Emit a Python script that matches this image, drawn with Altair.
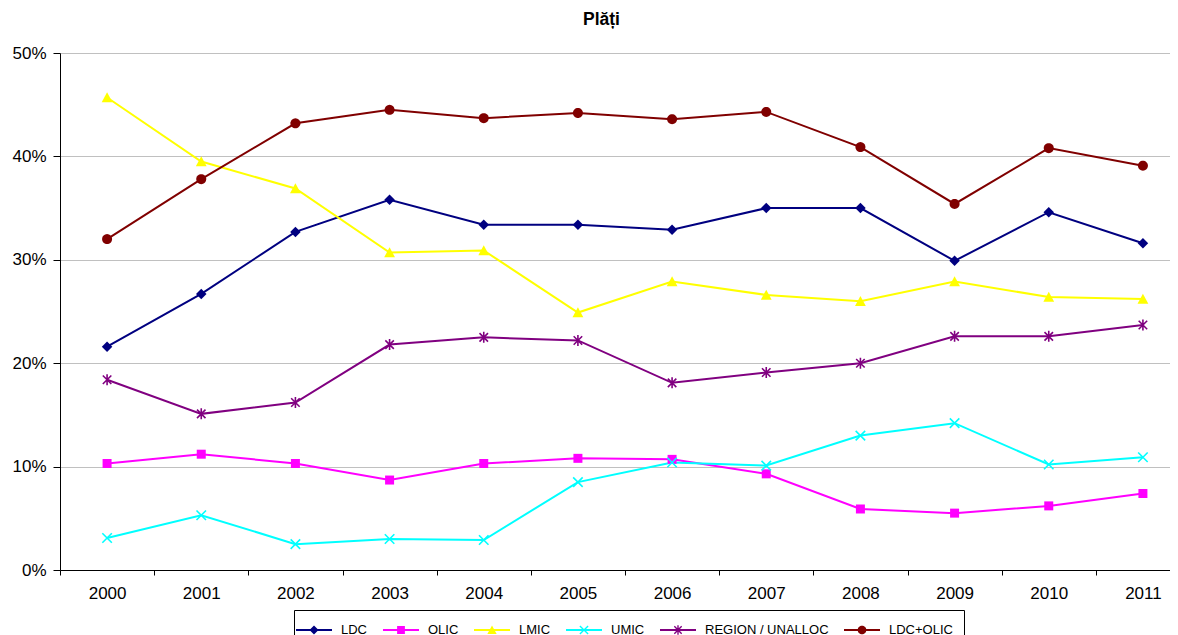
import math
import altair as alt
import pandas as pd

# ---------------- data ----------------
years = ["2000", "2001", "2002", "2003", "2004", "2005",
         "2006", "2007", "2008", "2009", "2010", "2011"]
series_names = ["LDC", "OLIC", "LMIC", "UMIC", "REGION / UNALLOC", "LDC+OLIC"]
series_colors = ["#000080", "#FF00FF", "#FFFF00", "#00FFFF", "#800080", "#800000"]

ldc = [21.6, 26.7, 32.7, 35.8, 33.4, 33.4, 32.9, 35.0, 35.0, 29.9, 34.6, 31.6]
olic = [10.3, 11.2, 10.3, 8.7, 10.3, 10.8, 10.7, 9.3, 5.9, 5.5, 6.2, 7.4]
lmic = [45.7, 39.5, 36.9, 30.7, 30.9, 24.9, 27.9, 26.6, 26.0, 27.9, 26.4, 26.2]
umic = [3.1, 5.3, 2.5, 3.0, 2.9, 8.5, 10.4, 10.1, 13.0, 14.2, 10.2, 10.9]
region = [18.4, 15.1, 16.2, 21.8, 22.5, 22.2, 18.1, 19.1, 20.0, 22.6, 22.6, 23.7]
ldc_olic = [32.0, 37.8, 43.2, 44.5, 43.7, 44.2, 43.6, 44.3, 40.9, 35.4, 40.8, 39.1]

y_ticks = [0, 0.1, 0.2, 0.3, 0.4, 0.5]

all_series = [ldc, olic, lmic, umic, region, ldc_olic]
rows = []
for name, vals in zip(series_names, all_series):
    for yr, v in zip(years, vals):
        rows.append({"series": name, "year": yr, "value": v / 100.0})
df = pd.DataFrame(rows)

# ---------------- marker shapes (SVG paths in unit box) ----------------
def _f(v):
    s = f"{v:.3f}".rstrip("0").rstrip(".")
    return "0" if s in ("-0", "", "-") else s


def poly(pts):
    n = len(pts)
    area = sum(pts[i][0] * pts[(i + 1) % n][1] - pts[(i + 1) % n][0] * pts[i][1] for i in range(n))
    if area > 0:
        pts = pts[::-1]
    return "M" + "L".join(f"{_f(x)},{_f(y)}" for x, y in pts) + "Z"


def bar(x1, y1, x2, y2, t):
    dx, dy = x2 - x1, y2 - y1
    L = math.hypot(dx, dy)
    nx, ny = -dy / L * t, dx / L * t
    return poly([(x1 + nx, y1 + ny), (x2 + nx, y2 + ny), (x2 - nx, y2 - ny), (x1 - nx, y1 - ny)])


def marker(kind, k=1.0):
    if kind == "diamond":
        a = 1.05 * k
        return poly([(0, -a), (a, 0), (0, a), (-a, 0)])
    if kind == "square":
        h = 0.9 * k
        return poly([(-h, -h), (h, -h), (h, h), (-h, h)])
    if kind == "triangle":
        return poly([(0, -1.05 * k), (1.08 * k, 0.95 * k), (-1.08 * k, 0.95 * k)])
    if kind == "circle":
        r = 1.0 * k
        return poly([(r * math.cos(2 * math.pi * i / 32), r * math.sin(2 * math.pi * i / 32)) for i in range(32)])
    if kind == "x":
        a, t = 0.95 * k, 0.16 * k
        return bar(-a, -a, a, a, t) + bar(-a, a, a, -a, t)
    if kind == "asterisk":
        a, b, t = 0.85 * k, 1.1 * k, 0.16 * k
        return bar(-a, -a, a, a, t) + bar(-a, a, a, -a, t) + bar(0, -b, 0, b, t)
    raise ValueError(kind)


kinds = ["diamond", "square", "triangle", "x", "asterisk", "circle"]
point_shapes = [marker(k) for k in kinds]
legend_shapes = [bar(-2, 0, 2, 0, 0.11) + marker(k, 0.48) for k in kinds]

FONT = "Liberation Sans"

# ---------------- chart ----------------
x_enc = alt.X(
    "year:O",
    sort=years,
    scale=alt.Scale(type="band", domain=years, paddingInner=0, paddingOuter=0, range=[0, 1130]),
    axis=alt.Axis(
        title=None, labelAngle=0, tickBand="extent", grid=False,
        domainColor="#000000", tickColor="#000000", tickSize=5,
        labelFont=FONT, labelFontSize=17, labelColor="#000000", labelPadding=10,
    ),
)
y_enc = alt.Y(
    "value:Q",
    scale=alt.Scale(domain=[0, 0.5], nice=False, zero=True),
    axis=alt.Axis(
        title=None, format=".0%", values=y_ticks, grid=True, gridColor="#C0C0C0",
        domainColor="#000000", tickColor="#000000", tickSize=7, labelPadding=7,
        labelFont=FONT, labelFontSize=17, labelColor="#000000",
    ),
)

color_scale = alt.Scale(domain=series_names, range=series_colors)

base = alt.Chart(df).encode(x=x_enc, y=y_enc)

lines = base.mark_line(strokeWidth=2).encode(
    color=alt.Color("series:N", scale=color_scale, legend=None),
)

points = base.mark_point(filled=True, size=100, opacity=1, strokeWidth=0).encode(
    color=alt.Color("series:N", scale=color_scale, legend=None),
    shape=alt.Shape("series:N", scale=alt.Scale(domain=series_names, range=point_shapes), legend=None),
)

leg = alt.Legend(
    title=None, orient="none", legendX=234, legendY=557, direction="horizontal",
    columns=6, padding=11, strokeColor="#000000", columnPadding=15,
    symbolSize=324, symbolOffset=0, labelOffset=18, symbolStrokeWidth=0,
    symbolOpacity=1, labelFont=FONT, labelFontSize=13, labelColor="#000000",
    labelLimit=300,
)

legend_layer = alt.Chart(df).transform_filter("false").mark_point(
    filled=True, size=324, opacity=1, strokeWidth=0
).encode(
    color=alt.Color("series:N", scale=color_scale, legend=leg),
    shape=alt.Shape("series:N", scale=alt.Scale(domain=series_names, range=legend_shapes), legend=leg),
)

chart = alt.layer(lines, points, legend_layer).resolve_scale(
    color="independent", shape="independent"
).properties(
    width=1110,
    height=517,
    title=alt.TitleParams(
        "Plăți", font=FONT, fontSize=17.5, fontWeight="bold", color="#000000",
        anchor="start", dx=571, offset=2, baseline="alphabetic",
    ),
    autosize=alt.AutoSizeParams(type="none"),
    padding={"left": 52, "top": 45, "right": 0, "bottom": 70},
).configure_view(stroke=None)

chart.save("out.html", embed_options={"renderer": "svg", "actions": False})
